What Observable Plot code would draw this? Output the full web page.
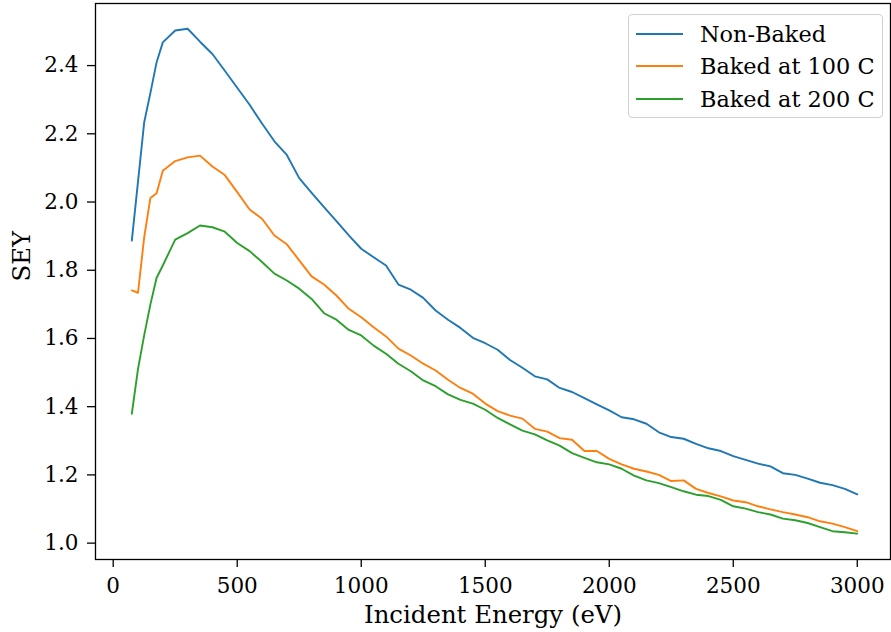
<!DOCTYPE html>
<html>
<head>
<meta charset="utf-8">
<script src="https://cdn.jsdelivr.net/npm/d3@7"></script>
<script src="https://cdn.jsdelivr.net/npm/@observablehq/plot@0.6"></script>
<style>
  body { margin: 0; background: white; }
  #wrap { position: relative; width: 891px; height: 632px; font-family: "DejaVu Serif", serif; }
  #legend { position: absolute; left: 628px; top: 14px; width: 255px; height: 104px;
            border: 1px solid #d0d0d0; border-radius: 4px; background: rgba(255,255,255,0.8); box-sizing: border-box; }
  .row { position: absolute; left: 0; height: 0; }
  .sw { position: absolute; left: 7px; width: 47px; height: 2px; top: -1px; }
  .lab { position: absolute; left: 71px; top: -15px; font-size: 22.4px; line-height: 30px; white-space: nowrap; color: #000; }
</style>
</head>
<body>
<div id="wrap"><div id="legend"></div></div>
<script>
const energies = [75,100,125,150,175,200,250,300,350,400,450,500,550,600,650,700,750,800,850,900,950,1000,
  1050,1100,1150,1200,1250,1300,1350,1400,1450,1500,1550,1600,1650,1700,1750,1800,1850,1900,1950,2000,
  2050,2100,2150,2200,2250,2300,2350,2400,2450,2500,2550,2600,2650,2700,2750,2800,2850,2900,2950,3000];

const nonBaked = [1.887,2.06,2.234,2.32,2.41,2.468,2.503,2.508,2.47,2.434,2.385,2.335,2.285,2.23,2.178,2.138,2.07,2.027,1.985,1.944,1.902,1.863,
  1.838,1.814,1.758,1.743,1.719,1.682,1.655,1.631,1.602,1.586,1.567,1.537,1.514,1.489,1.480,1.455,1.443,1.425,1.407,1.389,
  1.369,1.363,1.350,1.325,1.311,1.306,1.291,1.278,1.270,1.255,1.244,1.233,1.225,1.205,1.200,1.189,1.177,1.170,1.159,1.143];

const baked100 = [1.741,1.734,1.897,2.012,2.026,2.092,2.12,2.131,2.136,2.104,2.079,2.029,1.978,1.951,1.902,1.876,1.829,1.782,1.758,1.726,1.687,1.662,
  1.633,1.606,1.570,1.550,1.526,1.506,1.479,1.455,1.438,1.409,1.387,1.374,1.365,1.335,1.327,1.308,1.303,1.270,1.270,1.247,
  1.231,1.218,1.210,1.200,1.182,1.184,1.159,1.147,1.137,1.125,1.120,1.108,1.099,1.091,1.084,1.076,1.064,1.057,1.047,1.035];

const baked200 = [1.379,1.511,1.61,1.70,1.778,1.814,1.890,1.909,1.931,1.926,1.913,1.880,1.856,1.824,1.790,1.770,1.746,1.716,1.674,1.655,1.625,1.609,
  1.579,1.555,1.526,1.504,1.477,1.460,1.436,1.420,1.409,1.391,1.367,1.348,1.330,1.319,1.301,1.286,1.264,1.250,1.237,1.231,
  1.218,1.198,1.184,1.176,1.164,1.152,1.142,1.138,1.127,1.108,1.101,1.091,1.084,1.072,1.067,1.059,1.047,1.035,1.032,1.028];

const seriesNames = ["Non-Baked", "Baked at 100 C", "Baked at 200 C"];
const seriesColors = ["#1f77b4", "#ff7f0e", "#2ca02c"];
const xTicks = [0, 500, 1000, 1500, 2000, 2500, 3000];
const yTicks = [1.0, 1.2, 1.4, 1.6, 1.8, 2.0, 2.2, 2.4];
const xLabel = "Incident Energy (eV)";
const yLabel = "SEY";

const seriesValues = [nonBaked, baked100, baked200];
const rows = [];
seriesNames.forEach((name, i) => {
  energies.forEach((e, j) => rows.push({energy: e, sey: seriesValues[i][j], series: name}));
});

const chart = Plot.plot({
  width: 891,
  height: 632,
  marginLeft: 95,
  marginRight: 1,
  marginTop: 3,
  marginBottom: 73,
  style: {fontFamily: "DejaVu Serif", fontSize: "21.5px", color: "#000", background: "white"},
  x: {domain: [-71.4, 3134]},
  y: {domain: [0.952, 2.582]},
  color: {domain: seriesNames, range: seriesColors},
  marks: [
    Plot.line(rows, {x: "energy", y: "sey", z: "series", stroke: "series", strokeWidth: 1.9}),
    Plot.axisX(xTicks, {tickSize: 8, tickPadding: 10, strokeWidth: 1.3, fontSize: 21.5,
      tickFormat: d3.format("d"), label: null}),
    Plot.axisY(yTicks, {tickSize: 8, tickPadding: 9, strokeWidth: 1.3, fontSize: 21.5,
      tickFormat: d3.format(".1f"), label: null}),
    Plot.text([xLabel], {text: d => d, frameAnchor: "bottom", lineAnchor: "middle", dy: 56, fontSize: 24.4, fill: "#000"}),
    Plot.text([yLabel], {text: d => d, frameAnchor: "left", lineAnchor: "middle", rotate: -90, dx: -73, fontSize: 24.4, fill: "#000"}),
    Plot.frame({stroke: "#000", strokeWidth: 1.3})
  ]
});
document.getElementById("wrap").prepend(chart);

const legend = document.getElementById("legend");
seriesNames.forEach((name, i) => {
  const row = document.createElement("div");
  row.className = "row";
  row.style.top = (18.5 + i * 32.7) + "px";
  const sw = document.createElement("div");
  sw.className = "sw";
  sw.style.background = seriesColors[i];
  const lab = document.createElement("div");
  lab.className = "lab";
  lab.textContent = name;
  row.appendChild(sw);
  row.appendChild(lab);
  legend.appendChild(row);
});
</script>
</body>
</html>
